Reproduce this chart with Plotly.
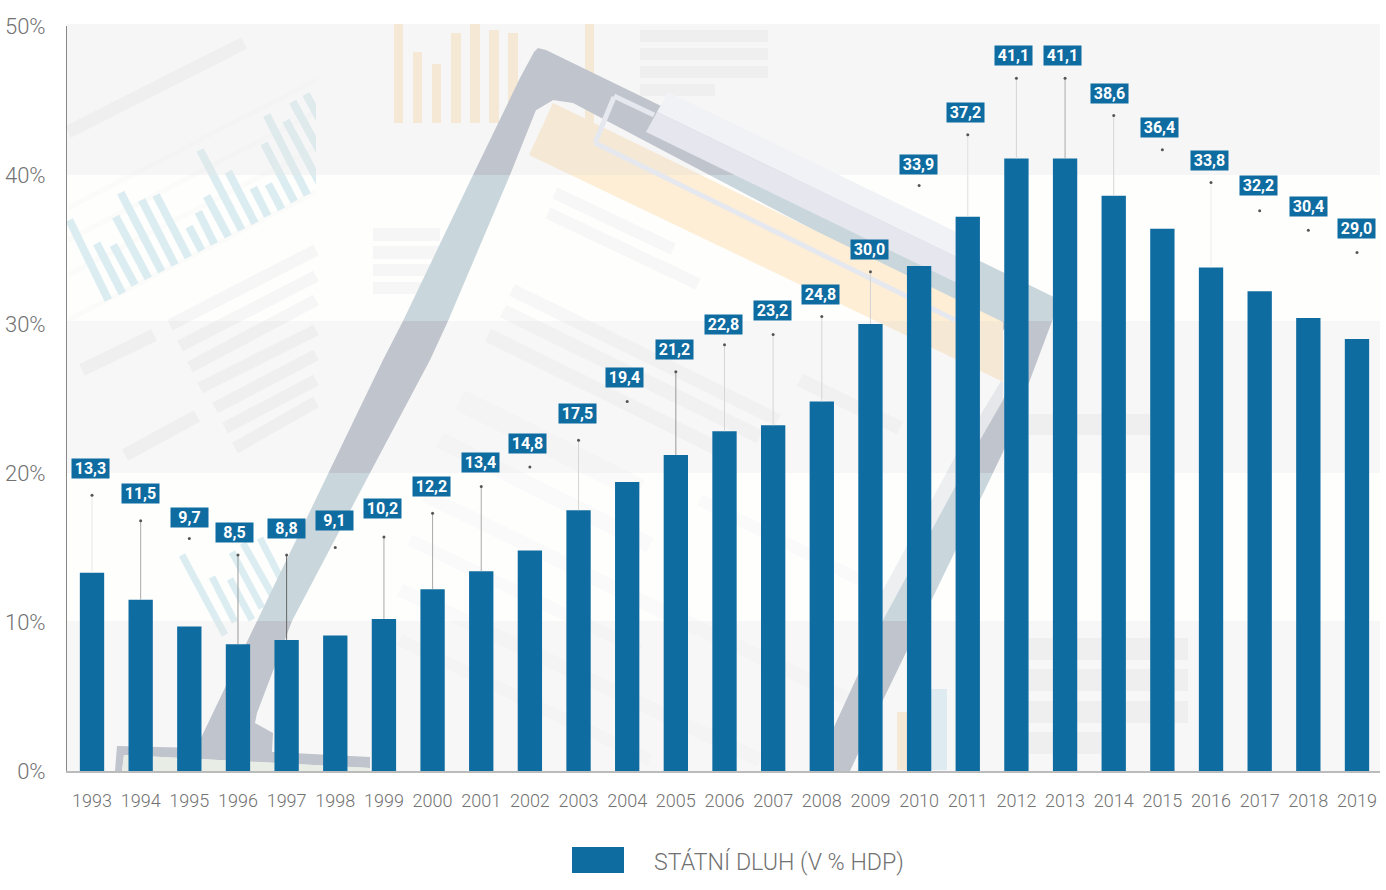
import plotly.graph_objects as go

# ---------- data ----------
years = list(range(1993, 2020))
debt = [13.3, 11.5, 9.7, 8.5, 8.8, 9.1, 10.2, 12.2, 13.4, 14.8, 17.5, 19.4, 21.2, 22.8,
        23.2, 24.8, 30.0, 33.9, 37.2, 41.1, 41.1, 38.6, 36.4, 33.8, 32.2, 30.4, 29.0]
dot_height = [18.5, 16.8, 15.6, 14.5, 14.5, 15.0, 15.7, 17.3, 19.1, 20.4, 22.2, 24.8, 26.8, 28.6,
              29.3, 30.5, 33.5, 39.3, 42.7, 46.5, 46.5, 44.0, 41.7, 39.5, 37.6, 36.3, 34.8]
label_height = [20.3, 18.6, 17.0, 16.0, 16.3, 16.8, 17.6, 19.1, 20.7, 22.0, 24.0, 26.4, 28.3, 30.0,
                30.9, 32.0, 35.0, 40.7, 44.2, 48.0, 48.0, 45.5, 43.2, 41.0, 39.3, 37.9, 36.4]
label_shift = [-2, 0, 0, -3, 0, -1, -1, -1, -1, -2, -1, -3, -1, -1, -1, -1, -1, -1, -2, -3, -3, -4, -3, -2, -1, 0, 0]
stem_color = ["#e8e8e8", "#aaaaaa", None, "#999999", "#666666", None, "#aaaaaa", "#aaaaaa", "#aaaaaa", None,
              "#d5d5d5", None, "#999999", "#d5d5d5", "#d5d5d5", "#d5d5d5", "#d5d5d5", None, "#e0e0e0",
              "#d5d5d5", "#aaaaaa", "#d5d5d5", None, "#eeeeee", None, None, None]
y_ticks = [0, 10, 20, 30, 40, 50]
y_tick_labels = ["0%", "10%", "20%", "30%", "40%", "50%"]
series_name = "STÁTNÍ DLUH (V % HDP)"

BLUE = "#0f6ca1"
TXT = "#727272"

# ---------- page geometry ----------
L, R, T, B = 67, 1380, 26, 771
def fx(px): return (px - L) / (R - L)
def fy(py): return (B - py) / (B - T)

BANDS = [(24, 175, 0), (175, 321, 1), (321, 473, 0), (473, 621, 1), (621, 771, 0)]

def clip(poly, ymin, ymax):
    def cut(pts, inside, ylim):
        out = []
        for i, p in enumerate(pts):
            q = pts[(i + 1) % len(pts)]
            if inside(p):
                out.append(p)
            if inside(p) != inside(q):
                t = (ylim - p[1]) / (q[1] - p[1])
                out.append((p[0] + t * (q[0] - p[0]), ylim))
        return out
    pts = cut(poly, lambda p: p[1] >= ymin, ymin)
    if pts:
        pts = cut(pts, lambda p: p[1] <= ymax, ymax)
    return pts

def clipx(poly, xmax):
    out = []
    for i, p in enumerate(poly):
        q = poly[(i + 1) % len(poly)]
        if p[0] <= xmax:
            out.append(p)
        if (p[0] <= xmax) != (q[0] <= xmax):
            t = (xmax - p[0]) / (q[0] - p[0])
            out.append((xmax, p[1] + t * (q[1] - p[1])))
    return out

def seg(a, b, w):
    dx, dy = b[0] - a[0], b[1] - a[1]
    n = (dx * dx + dy * dy) ** 0.5
    ox, oy = -dy / n * w / 2, dx / n * w / 2
    return [(a[0] + ox, a[1] + oy), (b[0] + ox, b[1] + oy), (b[0] - ox, b[1] - oy), (a[0] - ox, a[1] - oy)]

def rect(x0, y0, x1, y1):
    return [(x0, y0), (x1, y0), (x1, y1), (x0, y1)]

shapes = []
def add_path(pts, color):
    d = "M" + " L".join(f"{fx(x):.5f},{fy(y):.5f}" for x, y in pts) + " Z"
    shapes.append(dict(type="path", path=d, xref="paper", yref="paper", layer="below",
                       fillcolor=color, line=dict(width=0)))

def art(poly, on_grey, on_white):
    for y0, y1, white in BANDS:
        p = clip(poly, y0, y1)
        if len(p) > 2:
            add_path(p, on_white if white else on_grey)

# bands
for (y0, y1, white), col in zip(BANDS, ["#f6f6f6", "#fefefd", "#f7f7f7", "#fefefd", "#f7f7f7"]):
    add_path(rect(L, y0, R, y1), col)

# pale doc strips, left
G = ("#efefef", "#f6f6f6")
art(seg((68, 132), (244, 43), 13), *G)
for a, b, w in [((170, 325), (316, 250), 12), ((180, 346), (316, 276), 12), ((190, 367), (316, 300), 12),
                ((200, 388), (316, 330), 12), ((215, 408), (316, 355), 12), ((225, 428), (316, 380), 12),
                ((235, 448), (316, 402), 12), ((82, 370), (154, 335), 13), ((125, 455), (197, 416), 13)]:
    art(seg(a, b, w), *G)
for a, b in [((68, 208), (316, 80)), ((68, 240), (316, 112)), ((68, 275), (316, 148)), ((68, 320), (316, 192))]:
    art(seg(a, b, 5), "#f4f4f4", "#fbfbfa")

# tilted blue mini chart, upper left (clipped at 316)
LB = ("#dfeaed", "#dcedf2")
mini = [((28, 600), (145, 840)), ((110, 670), (187, 820)), ((160, 675), (225, 795)), ((167, 590), (265, 775)),
        ((182, 518), (305, 755)), ((245, 540), (345, 735)), ((288, 525), (385, 712)), ((387, 620), (425, 692)),
        ((415, 575), (463, 672)), ((440, 528), (505, 650)), ((420, 390), (545, 630)), ((505, 455), (585, 610)),
        ((580, 503), (623, 588)), ((625, 492), (665, 568)), ((612, 370), (703, 545)), ((620, 285), (742, 525)),
        ((678, 302), (790, 510)), ((698, 245), (810, 450)), ((738, 222), (810, 355))]
for a, b in mini:
    pa = (a[0] / 3 + 60, a[1] / 3 + 20)
    pb = (b[0] / 3 + 60, b[1] / 3 + 20)
    poly = clipx(seg(pa, pb, 8), 316)
    if len(poly) > 2:
        art(poly, *LB)

# orange mini bars, top
OR = ("#f5e8d5", "#fdeed5")
for x0, x1, y0 in [(394, 403, 24), (413, 422, 52), (432, 441, 64), (451, 461, 33), (470, 480, 24),
                   (489, 499, 30), (508, 518, 33), (585, 594, 24)]:
    art(rect(x0, y0, x1, 123), *OR)

# horizontal rows
for y0, y1, x1 in [(30, 42, 768), (48, 60, 768), (66, 78, 768), (84, 96, 715)]:
    art(rect(640, y0, x1, y1), *G)
for y0, y1 in [(228, 241), (246, 259), (264, 276), (282, 294)]:
    art(rect(373, y0, 440, y1), *G)
for y0, y1, x1 in [(638, 660, 1188), (669, 691, 1188), (701, 723, 1188), (732, 754, 1101), (414, 435, 1150)]:
    art(rect(1029, y0, x1, y1), "#efefef", "#f6f6f6")

# paper text strips
for a, b, w in [((555, 193), (673, 249), 12), ((548, 213), (698, 284), 12), ((512, 290), (778, 420), 13),
                ((503, 311), (760, 437), 14), ((488, 335), (730, 455), 14), ((800, 380), (900, 428), 14)]:
    art(seg(a, b, w), "#f1f1f1", "#f7f7f7")
for a, b, w in [((460, 400), (640, 490), 22), ((440, 440), (650, 545), 16), ((425, 495), (700, 630), 14),
                ((410, 540), (640, 650), 12), ((400, 590), (760, 760), 14), ((400, 640), (650, 760), 12),
                ((700, 500), (860, 580), 12), ((640, 600), (850, 700), 14)]:
    art(seg(a, b, w), "#f4f4f4", "#fafafa")

# lower-left blue bars
for a, b in [((182, 555), (225, 635)), ((212, 577), (235, 622)), ((230, 579), (252, 620)),
             ((232, 552), (262, 608)), ((243, 543), (275, 600)), ((260, 538), (283, 583))]:
    art(seg(a, b, 7), *LB)

# clipboard frame
F = ("#c0c4cd", "#c9d6dc")
art([(534, 52), (538, 48), (546, 50), (1060, 300), (1003, 330), (573, 103), (553, 100), (536, 110)], *F)
art([(534, 52), (520, 78), (473, 175), (403, 321), (383, 360), (257, 621), (200, 740), (200, 752), (272, 752),
     (273, 733), (255, 723), (257, 713), (292, 621), (370, 473), (430, 360), (448, 321), (510, 175), (536, 110),
     (553, 100)], *F)
art([(117, 746), (200, 748), (273, 752), (370, 757), (370, 768), (124, 755), (122, 771), (115, 771)], *F)
art([(124, 755), (370, 768), (370, 771), (122, 771)], "#e8ede6", "#e8ede6")

# right arm, with its lighter strip
art([(1003, 378), (955, 457), (883, 590), (865, 625), (883, 620), (955, 487), (980, 440), (1003, 400)],
    "#e6e7ea", "#eeeff1")
art([(1060, 300), (1003, 452), (980, 500), (883, 700), (850, 771), (834, 771), (834, 727), (883, 620),
     (955, 487), (980, 440), (1003, 400), (1028, 340), (1003, 325)], *F)

# yellow sheet
art([(553, 103), (1003, 322), (1003, 382), (993, 377), (529, 155)], *OR)

# clip outline + bar
C = ("#e6e8ef", "#e6e8ef")
for a, b in [((654, 115), (614, 96)), ((614, 97), (595, 143)), ((595, 143), (955, 320))]:
    art(seg(a, b, 5), *C)
art([(668, 92), (975, 241), (965, 261), (657, 112)], "#f1f2f6", "#f1f2f6")
art([(657, 112), (965, 261), (955, 282), (646, 132)], "#e5e6ee", "#e5e6ee")

# lower small bars
art(rect(897, 712, 925, 770), "#f5e8d5", "#f5e8d5")
art(rect(925, 689, 947, 770), "#deebf0", "#deebf0")

# legend key
shapes.append(dict(type="rect", xref="paper", yref="paper", x0=fx(572), x1=fx(624), y0=fy(873), y1=fy(847),
                   fillcolor=BLUE, line=dict(width=0)))

# ---------- figure ----------
fig = go.Figure()
fig.add_trace(go.Bar(x=years, y=debt, name=series_name, width=0.5, marker=dict(color=BLUE, line=dict(width=0)),
                     showlegend=False))
for yr, v, d, c in zip(years, debt, dot_height, stem_color):
    if c:
        fig.add_trace(go.Scatter(x=[yr, yr], y=[v, d], mode="lines", line=dict(color=c, width=1),
                                 showlegend=False, hoverinfo="skip"))
fig.add_trace(go.Scatter(x=years, y=dot_height, mode="markers", marker=dict(color="#555555", size=3),
                         showlegend=False, hoverinfo="skip"))

ann = []
for yr, v, h, s in zip(years, debt, label_height, label_shift):
    ann.append(dict(x=yr, y=h, xref="x", yref="y", xshift=s, text=f"{v:.1f}".replace(".", ","), showarrow=False,
                    bgcolor=BLUE, width=37, height=19, borderpad=0, align="center", valign="middle",
                    font=dict(family="Roboto", size=16, color="white", weight=700)))
ann.append(dict(x=fx(654), y=fy(862), xref="paper", yref="paper", xanchor="left", yanchor="middle",
                text=series_name, showarrow=False, xshift=-2,
                font=dict(family="Roboto", size=23.2, color=TXT, weight=300)))

fig.update_layout(
    width=1386, height=890, autosize=False,
    margin=dict(l=L, r=1386 - R, t=T, b=890 - B, pad=0, autoexpand=False),
    paper_bgcolor="white", plot_bgcolor="rgba(0,0,0,0)",
    shapes=shapes, annotations=ann, bargap=0.5, showlegend=False,
    xaxis=dict(range=[1992.486, 2019.473], tickmode="array", tickvals=years, ticktext=[str(y) for y in years],
               automargin=False,
               showgrid=False, zeroline=False, showline=True, linecolor="#bbbbbb", linewidth=2,
               ticks="outside", ticklen=12, tickcolor="rgba(0,0,0,0)", tickangle=0,
               tickfont=dict(family="Roboto", size=18, color=TXT, weight=300)),
    yaxis=dict(range=[0, 50], tickmode="array", tickvals=y_ticks, ticktext=y_tick_labels,
               automargin=False,
               showgrid=False, zeroline=False, showline=True, linecolor="#888888", linewidth=1,
               ticks="outside", ticklen=16, tickcolor="rgba(0,0,0,0)",
               tickfont=dict(family="Roboto", size=22, color=TXT, weight=300)),
)
fig.write_html("out.html", config=dict(displayModeBar=False), post_script="document.body.style.margin='0';")
